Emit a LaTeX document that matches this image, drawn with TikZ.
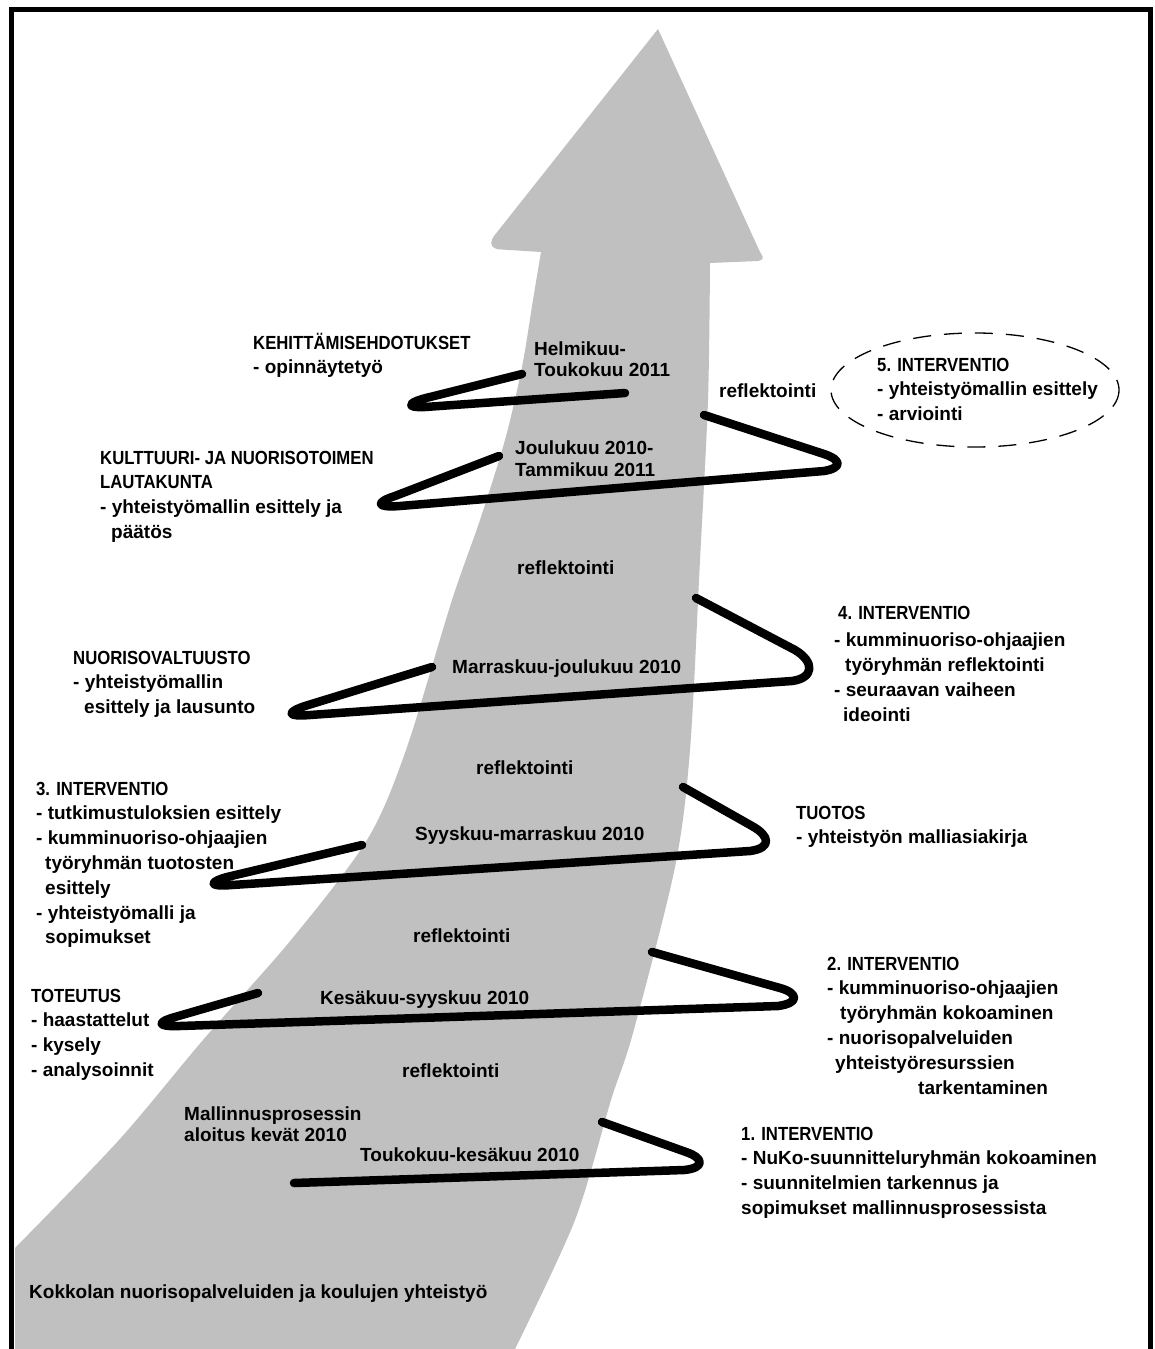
\documentclass[tikz,border=0pt]{standalone}
\usepackage{fontspec}
\setmainfont{Liberation Sans}
\usepackage{graphicx}
\definecolor{arrowgray}{HTML}{C0C0C0}
\newcommand{\capsfit}[1]{\scalebox{0.88}[1]{#1}}
\tikzset{
  lbl/.style={inner sep=0pt, anchor=north west, align=left, font=\bfseries\fontsize{19}{24.8}\selectfont},
  spiral/.style={line width=8.5pt, line cap=round, line join=round},
  frame/.style={line width=5pt},
  dashring/.style={line width=1.3pt, dash pattern=on 18pt off 13pt}
}
\begin{document}
\begin{tikzpicture}[x=1pt,y=-1pt]
\useasboundingbox (0,0) rectangle (1154,1349);
\fill[white] (0,0) rectangle (1154,1349);

% big grey arrow
\fill[arrowgray]
  (658,29) -- (494,236) [rounded corners=4pt] -- (490,243) -- (494,249) [sharp corners] -- (541,252)
  -- plot[smooth] coordinates {(541,252) (533,300) (522,367) (505,440) (480,520) (452,600) (406,750) (367,840) (291,940) (203,1040) (119,1140) (15,1248)}
  -- (15,1349) -- (515,1349)
  -- plot[smooth] coordinates {(515,1349) (575,1220) (611,1100) (633,1033) (675,867) (690,750) (700,560) (708,400) (710,263)}
  -- (758,261) [rounded corners=3pt] -- (764,259) -- (760,252) [sharp corners] -- cycle;

% frame
\draw[frame] (11.5,1349) -- (11.5,9.5) -- (1150,9.5) -- (1150,1349);

% spiral strokes
\draw[spiral] (522,374) -- (430,397) .. controls (408,402) and (404,408) .. (425,407) -- (625,393);
\draw[spiral] (704,415) -- (824,454) .. controls (842,460) and (842,468) .. (824,471)
  -- (400,506) .. controls (375,508) and (376,502) .. (395,496) -- (499,456);
\draw[spiral] (696,598) -- (795,650) .. controls (815,662) and (814,678) .. (792,681)
  -- (310,715) .. controls (286,717) and (287,712) .. (305,706) -- (432,667);
\draw[spiral] (683,787) -- (752,826) .. controls (770,836) and (772,848) .. (750,851)
  -- (232,885) .. controls (208,887) and (209,882) .. (227,877) -- (362,845);
\draw[spiral] (652,952) -- (780,988) .. controls (798,993) and (800,1003) .. (778,1006)
  -- (180,1026) .. controls (156,1027) and (157,1022) .. (175,1017) -- (258,993);
\draw[spiral] (602,1122) -- (686,1152) .. controls (704,1158) and (705,1168) .. (684,1170) -- (294,1183);

% dashed ellipse
\draw[dashring] (975,390) ellipse [x radius=144, y radius=57];

% labels
\node[lbl] (kehit) at (253,331.5) {\strut\capsfit{KEHITTÄMISEHDOTUKSET}\\- opinnäytetyö};
\node[lbl] (helmi) at (534,337.5) {\strut Helmikuu-\\[-3pt]Toukokuu 2011};
\node[lbl] (refla) at (719,379.5) {\strut reflektointi};
\node[lbl] (intv) at (877,353.5) {\strut\capsfit{5. INTERVENTIO}\\- yhteistyömallin esittely\\- arviointi};
\node[lbl] (joulu) at (515,436.5) {\strut Joulukuu 2010-\\[-2pt]Tammikuu 2011};
\node[lbl] (kult) at (100,446.5) {\strut\capsfit{KULTTUURI- JA NUORISOTOIMEN}\\\capsfit{LAUTAKUNTA}\\- yhteistyömallin esittely ja\\\hspace{11pt}päätös};
\node[lbl] (reflb) at (517,556.5) {\strut reflektointi};
\node[lbl] (intiv) at (834,601.5) {\strut\hspace{4pt}\capsfit{4. INTERVENTIO}\\[3pt]- kumminuoriso-ohjaajien\\\hspace{11pt}työryhmän reflektointi\\- seuraavan vaiheen\\\hspace{9pt}ideointi};
\node[lbl] (nuor) at (73,646.5) {\strut\capsfit{NUORISOVALTUUSTO}\\- yhteistyömallin\\\hspace{11pt}esittely ja lausunto};
\node[lbl] (marras) at (452,655.5) {\strut Marraskuu-joulukuu 2010};
\node[lbl] (reflc) at (476,756.5) {\strut reflektointi};
\node[lbl] (intiii) at (36,777.5) {\strut\capsfit{3. INTERVENTIO}\\- tutkimustuloksien esittely\\- kumminuoriso-ohjaajien\\\hspace{9pt}työryhmän tuotosten\\\hspace{9pt}esittely\\- yhteistyömalli ja\\\hspace{9pt}sopimukset};
\node[lbl] (syys) at (415,822.5) {\strut Syyskuu-marraskuu 2010};
\node[lbl] (tuotos) at (796,801.5) {\strut\capsfit{TUOTOS}\\- yhteistyön malliasiakirja};
\node[lbl] (refld) at (413,924.5) {\strut reflektointi};
\node[lbl] (toteutus) at (31,984.5) {\strut\capsfit{TOTEUTUS}\\- haastattelut\\- kysely\\- analysoinnit};
\node[lbl] (kesa) at (320,986.5) {\strut Kesäkuu-syyskuu 2010};
\node[lbl] (intii) at (827,952.5) {\strut\capsfit{2. INTERVENTIO}\\- kumminuoriso-ohjaajien\\\hspace{13pt}työryhmän kokoaminen\\- nuorisopalveluiden\\\hspace{8pt}yhteistyöresurssien\\\hspace{91pt}tarkentaminen};
\node[lbl] (refle) at (402,1059.5) {\strut reflektointi};
\node[lbl] (malli) at (184,1102.5) {\strut Mallinnusprosessin\\[-3pt]aloitus kevät 2010};
\node[lbl] (touko) at (360,1143.5) {\strut Toukokuu-kesäkuu 2010};
\node[lbl] (inti) at (741,1122.5) {\strut\capsfit{1. INTERVENTIO}\\- NuKo-suunnitteluryhmän kokoaminen\\- suunnitelmien tarkennus ja\\sopimukset mallinnusprosessista};
\node[lbl] (kokkola) at (29,1280.5) {\strut Kokkolan nuorisopalveluiden ja koulujen yhteistyö};
\end{tikzpicture}
\end{document}
